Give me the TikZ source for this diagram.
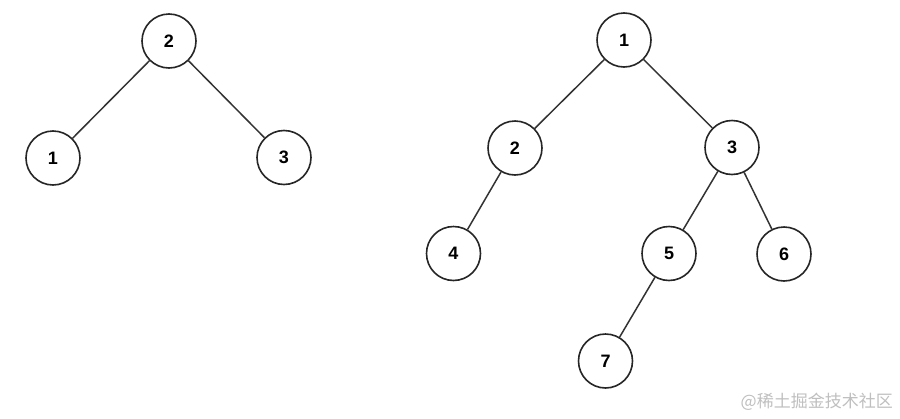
\documentclass[tikz,border=0pt]{standalone}
\usepackage{fontspec}
\setmainfont{Liberation Sans}
\newfontfamily\cjk{Noto Sans CJK SC}
\begin{document}
\begin{tikzpicture}[x=1pt,y=-1pt,
  tnode/.style={circle,draw=black!85,line width=1.6pt,minimum size=54pt,inner sep=0pt,fill=white,font=\bfseries\fontsize{18}{20}\selectfont},
  tedge/.style={draw=black!80,line width=1.5pt}]
\useasboundingbox[fill=white] (0,0) rectangle (900,418);
% left tree
\node[tnode] (L2) at (169,41) {2};
\node[tnode] (L1) at (53,158) {1};
\node[tnode] (L3) at (284,157.5) {3};
\draw[tedge] (L2) -- (L1);
\draw[tedge] (L2) -- (L3);
% right tree
\node[tnode] (R1) at (624,40) {1};
\node[tnode] (R2) at (515,148) {2};
\node[tnode] (R3) at (732,147.5) {3};
\node[tnode] (R4) at (453.5,253.5) {4};
\node[tnode] (R5) at (669,253.5) {5};
\node[tnode] (R6) at (784,254) {6};
\node[tnode] (R7) at (605.5,361) {7};
\draw[tedge] (R1) -- (R2);
\draw[tedge] (R1) -- (R3);
\draw[tedge] (R2) -- (R4);
\draw[tedge] (R3) -- (R5);
\draw[tedge] (R3) -- (R6);
\draw[tedge] (R5) -- (R7);
% watermark
\node[text=black!25,font=\cjk\fontsize{17}{20}\selectfont,anchor=east,inner sep=0pt] (wm) at (893,402) {@稀土掘金技术社区};
\end{tikzpicture}
\end{document}
